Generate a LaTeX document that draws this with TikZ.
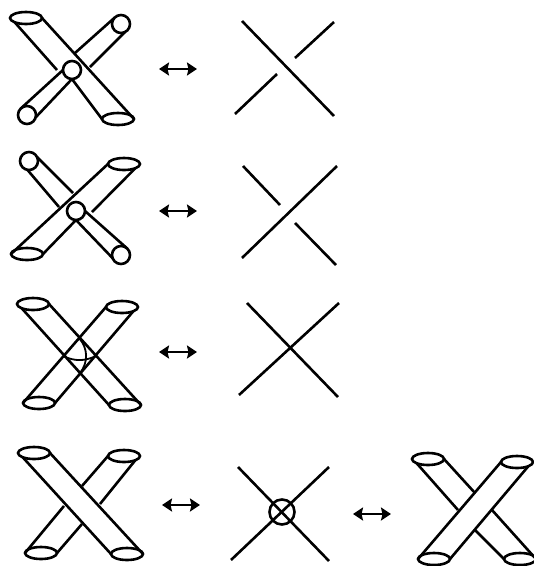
\documentclass[tikz,border=0pt]{standalone}
\usepackage{tikz}
\usetikzlibrary{shapes.geometric, arrows.meta}
\tikzset{
  tubeend/.style={draw, ellipse, fill=white, minimum width=32pt, minimum height=12pt, inner sep=0pt, outer sep=0pt},
  tubecap/.style={draw, circle, fill=white, minimum size=18pt, inner sep=0pt, outer sep=0pt},
  swap/.style={{Stealth[length=10pt,width=13pt,inset=1.5pt]}-{Stealth[length=10pt,width=13pt,inset=1.5pt]}}
}

\begin{document}
\begin{tikzpicture}[x=1pt, y=-1pt, line width=2.6pt]
      \useasboundingbox (0,0) rectangle (534,566);

      % first row
      \node[tubeend] (a1) at (26,18) {};
      \node[tubeend] (a2) at (118,119) {};
      \node[tubecap] (a3) at (121,24) {};
      \node[tubecap] (a4) at (27,115) {};
      \coordinate (a5) at (57,70);
      \coordinate (a6) at (75,53);
      \coordinate (a7) at (90,67);
      \draw (a1.east) to (a2.east);
      \draw (a1.south west) to (a5);
      \draw (a3.north west) to (a6);
      \draw (a3.-65) to (a7);
      \node[tubecap] (a8) at (72,70) {};
      \draw (a8.south) to (a2.west);
      \draw (a8.west) to (a4.north west);
      \draw (a8.south) to (a4.-15);
      \coordinate (a9) at (159,69);
      \coordinate (a10) at (197,69);
      \draw[swap] (a9) to (a10);
      \coordinate (b1) at (242,21);
      \coordinate (b2) at (334,116);
      \coordinate (b3) at (334,22);
      \coordinate (b4) at (295,58);
      \coordinate (b5) at (277,74);
      \coordinate (b6) at (235,114);
      \draw (b1) to (b2);
      \draw (b3) to (b4);
      \draw (b5) to (b6);

      % second row
      \node[tubecap] (c1) at (29,161) {};
      \node[tubeend] (c2) at (124,164) {};
      \node[tubeend] (c3) at (27,254) {};
      \node[tubecap] (c4) at (121,255) {};
      \coordinate (c5) at (73,193);
      \coordinate (c6) at (59,207);
      \coordinate (c7) at (92,212);
      \draw (c2.west) to (c3.west);
      \draw (c1.25) to (c5);
      \draw (c1.260) to (c6);
      \draw (c2.south east) to (c7);
      \node[tubecap] (c8) at (76,211) {};
      \draw (c8.south) to (c3.east);
      \draw (c8.east) to (c4.north east);
      \draw (c8.south) to (c4.200);
      \coordinate (c9) at (159,211);
      \coordinate (c10) at (197,211);
      \draw[swap] (c9) to (c10);
      \coordinate (d1) at (243,166);
      \coordinate (d2) at (280,205);
      \coordinate (d3) at (337,166);
      \coordinate (d4) at (242,258);
      \coordinate (d5) at (295,223);
      \coordinate (d6) at (336,265);
      \draw (d1) to (d2);
      \draw (d3) to (d4);
      \draw (d5) to (d6);

      % third row
      \node[tubeend] (e1) at (33,304) {};
      \node[tubeend] (e2) at (122,307) {};
      \node[tubeend] (e3) at (39,403) {};
      \node[tubeend] (e4) at (125,405) {};
      \draw (e1.east) to (e4.east);
      \draw (e1.south west) to (e4.west);
      \draw (e2.west) to (e3.west);
      \draw (e2.south east) to (e3.east);
      \coordinate (e5) at (63,356);
      \coordinate (e6) at (96,356);
      \coordinate (e7) at (79,338);
      \coordinate (e8) at (80,373);
      \draw[line width=1.8pt] (e5) to [bend right = 25] (e6);
      \draw[line width=1.8pt] (e7) to [bend left = 40] (e8);
      \coordinate (e9) at (159,352);
      \coordinate (e10) at (197,352);
      \draw[swap] (e9) to (e10);
      \coordinate (f1) at (247,303);
      \coordinate (f2) at (338,397);
      \coordinate (f3) at (339,303);
      \coordinate (f4) at (239,395);
      \draw (f1) to (f2);
      \draw (f3) to (f4);

      % fourth row
      \node[tubeend] (g1) at (34,453) {};
      \node[tubeend] (g2) at (124,456) {};
      \node[tubeend] (g3) at (41,553) {};
      \node[tubeend] (g4) at (127,554) {};
      \coordinate (g5) at (82,486);
      \coordinate (g6) at (64,506);
      \coordinate (g7) at (100,504);
      \coordinate (g8) at (82,524);
      \draw (g1.east) to (g4.east);
      \draw (g1.south west) to (g4.west);
      \draw (g2.west) to (g5);
      \draw (g6) to (g3.west);
      \draw (g2.south east) to (g7);
      \draw (g8) to (g3.east);
      \coordinate (g9) at (162,505);
      \coordinate (g10) at (200,505);
      \draw[swap] (g9) to (g10);
      \coordinate (h1) at (238,467);
      \coordinate (h2) at (329,561);
      \coordinate (h3) at (329,467);
      \coordinate (h4) at (231,560);
      \draw (h1) to (h2);
      \draw (h3) to (h4);
      \node[draw, circle, minimum size=25pt, inner sep=0pt] (h5) at (282,512) {};
      \coordinate (h6) at (353,514);
      \coordinate (h7) at (391,514);
      \draw[swap] (h6) to (h7);
      \node[tubeend] (i1) at (428,459) {};
      \node[tubeend] (i2) at (517,462) {};
      \node[tubeend] (i3) at (434,559) {};
      \node[tubeend] (i4) at (520,559) {};
      \coordinate (i5) at (475,493);
      \coordinate (i6) at (458,510);
      \coordinate (i7) at (492,510);
      \coordinate (i8) at (475,530);
      \draw (i2.west) to (i3.west);
      \draw (i2.south east) to (i3.east);
      \draw (i1.east) to (i5);
      \draw (i1.south west) to (i6);
      \draw (i7) to (i4.east);
      \draw (i8) to (i4.west);
    \end{tikzpicture}
\end{document}
